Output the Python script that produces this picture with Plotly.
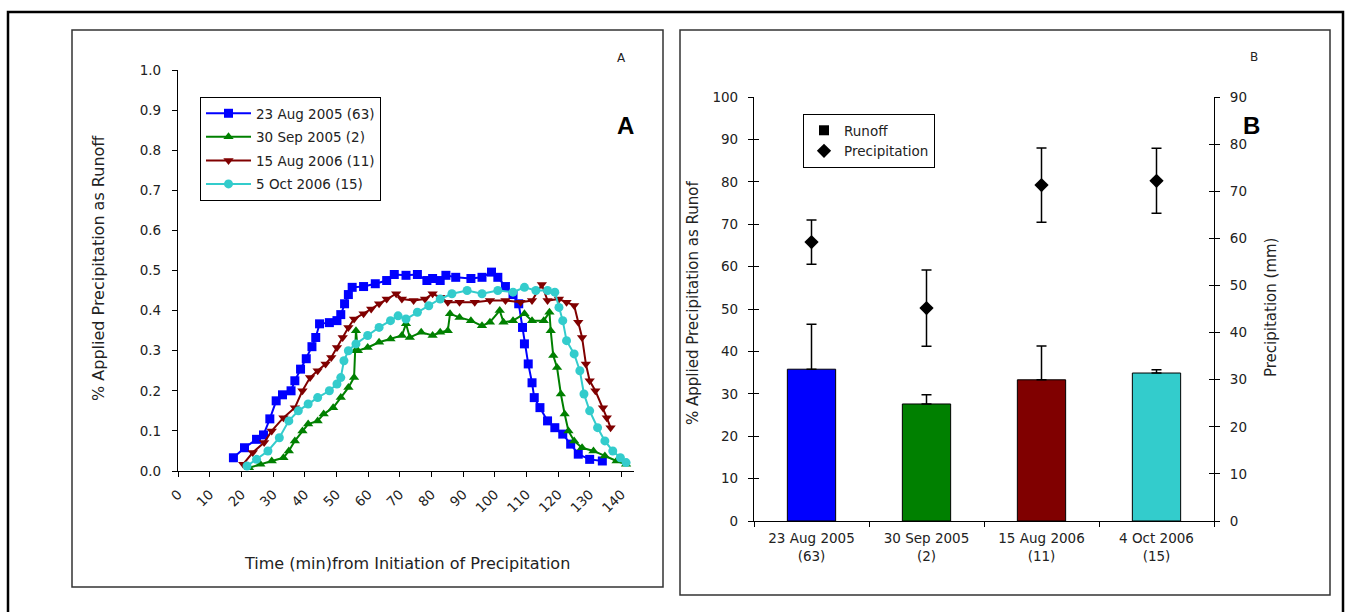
import plotly.graph_objects as go

W, H = 1349, 612

# ---------------- Panel A data (time in min, fraction of applied precip as runoff)
aug05_t = [17.5, 21, 24.8, 27, 29, 31, 33, 35.7, 36.9, 38.7, 40.5, 42.3, 43.5, 44.7, 47.8, 50.2, 51.4, 52.6,
           53.8, 55, 58.6, 62.3, 65.9, 68.3, 72, 75.6, 78.6, 80.4, 82.8, 84.6, 87.7, 92.5, 96, 99, 101, 103.4,
           105.8, 107.6, 108.8, 109.4, 110.6, 111.8, 112.5, 114.3, 116.7, 119, 121.5, 124, 126.4, 130, 134]
aug05_v = [0.033, 0.058, 0.079, 0.09, 0.13, 0.175, 0.19, 0.2, 0.225, 0.254, 0.28, 0.31, 0.333, 0.367, 0.37,
           0.375, 0.39, 0.417, 0.44, 0.458, 0.46, 0.467, 0.475, 0.49, 0.488, 0.49, 0.475, 0.48, 0.475, 0.488,
           0.483, 0.48, 0.483, 0.496, 0.483, 0.46, 0.44, 0.417, 0.358, 0.317, 0.267, 0.22, 0.183, 0.158, 0.125,
           0.108, 0.092, 0.067, 0.042, 0.029, 0.025]

sep05_t = [22.4, 26, 29.6, 33.3, 35, 36.9, 39.3, 41.1, 44.1, 46, 49, 51.4, 53.8, 55.6, 56, 56.2, 56.8, 59.9,
           63.5, 67.1, 70.7, 72, 73.2, 76.8, 80.4, 82.8, 85.2, 85.9, 88.9, 92.5, 96, 98.5, 101.6, 102.8, 105.8,
           109.4, 111.8, 115.5, 117.3, 117.7, 118.5, 119.7, 120.9, 122.1, 123.3, 125.1, 127.6, 131.2, 134.8,
           138.5, 141.5]
sep05_v = [0.008, 0.017, 0.025, 0.033, 0.05, 0.075, 0.1, 0.117, 0.125, 0.142, 0.158, 0.183, 0.208, 0.233, 0.3,
           0.35, 0.3, 0.308, 0.321, 0.329, 0.338, 0.367, 0.333, 0.346, 0.338, 0.346, 0.35, 0.392, 0.383, 0.375,
           0.362, 0.371, 0.4, 0.371, 0.375, 0.392, 0.375, 0.375, 0.396, 0.35, 0.288, 0.258, 0.192, 0.142, 0.1,
           0.075, 0.058, 0.05, 0.0375, 0.025, 0.017]

aug06_t = [20.6, 23.6, 27.2, 29.6, 33.3, 36.9, 39.3, 41.7, 44.1, 46.6, 48.4, 50.2, 52, 53.8, 55.6, 58.6, 61,
           63.5, 65.9, 68.9, 70.7, 74.4, 78, 80.4, 82.8, 85.2, 88.9, 93.7, 98.5, 103.4, 108.2, 111.8, 114.9,
           116.7, 120.3, 122.7, 125.1, 126.4, 127.6, 128.8, 130, 131.8, 134.2, 135.4, 136.6]
aug06_v = [0.017, 0.046, 0.071, 0.1, 0.133, 0.158, 0.2, 0.233, 0.25, 0.267, 0.283, 0.308, 0.333, 0.358, 0.379,
           0.392, 0.404, 0.417, 0.429, 0.442, 0.429, 0.425, 0.429, 0.442, 0.433, 0.421, 0.421, 0.421, 0.425,
           0.425, 0.421, 0.425, 0.465, 0.425, 0.429, 0.421, 0.413, 0.371, 0.333, 0.267, 0.225, 0.2, 0.158,
           0.133, 0.108]

oct06_t = [21.8, 24.8, 28.4, 32, 35, 38, 41.1, 44.1, 47.8, 50.2, 51.4, 52.4, 53.8, 56.2, 59.9, 63.5, 67.1, 69.5,
           72, 75.6, 79.2, 82.8, 86.5, 91.3, 96, 101, 105.8, 109.4, 113, 116.7, 119, 120.3, 121.5, 122.7, 125.1,
           126.9, 128.2, 130, 132.5, 134.8, 137.3, 139.7, 141.5]
oct06_v = [0.0125, 0.029, 0.05, 0.083, 0.125, 0.15, 0.167, 0.183, 0.2, 0.217, 0.233, 0.275, 0.3, 0.317, 0.338,
           0.358, 0.375, 0.387, 0.379, 0.396, 0.412, 0.429, 0.442, 0.45, 0.442, 0.45, 0.446, 0.458, 0.45, 0.45,
           0.446, 0.408, 0.375, 0.325, 0.292, 0.25, 0.192, 0.15, 0.108, 0.075, 0.05, 0.033, 0.021]

series_names = ["23 Aug 2005 (63)", "30 Sep 2005 (2)", "15 Aug 2006 (11)", "5 Oct 2006 (15)"]
x_ticks_a = list(range(0, 141, 10))

# ---------------- Panel B data
events = ["23 Aug 2005<br>(63)", "30 Sep 2005<br>(2)", "15 Aug 2006<br>(11)", "4 Oct 2006<br>(15)"]
runoff_pct = [35.8, 27.6, 33.3, 34.9]
runoff_err = [10.6, 2.2, 8.0, 0.8]
precip_mm = [59.2, 45.2, 71.3, 72.2]
precip_err = [4.7, 8.1, 7.9, 6.9]

colors = ["#0000FF", "#008000", "#800000", "#33CCCC"]
symbols = ["square", "triangle-up", "triangle-down", "circle"]

FONT = "DejaVu Sans, Verdana, sans-serif"
BFONT = "Liberation Sans, Arial, sans-serif"
TXT = "#222222"


def px(x):
    return x / W


def py(y):
    return 1 - y / H


fig = go.Figure()

for (t, v), name, c, s, grp in zip(
        [(aug05_t, aug05_v), (sep05_t, sep05_v), (aug06_t, aug06_v), (oct06_t, oct06_v)],
        series_names, colors, symbols, ["g1", "g2", "g3", "g4"]):
    fig.add_trace(go.Scatter(
        x=t, y=v, mode="lines+markers", name=name, legendgroup=grp,
        line=dict(color=c, width=2),
        marker=dict(symbol=s, size=9, color=c, line=dict(width=0)),
        xaxis="x", yaxis="y", legend="legend"))

fig.add_trace(go.Bar(
    x=events, y=runoff_pct, marker=dict(color=colors, line=dict(color="black", width=1)),
    width=0.42, showlegend=False, xaxis="x2", yaxis="y2",
    error_y=dict(type="data", symmetric=False, array=runoff_err, arrayminus=[0] * 4,
                 color="black", thickness=1.5, width=5)))

fig.add_trace(go.Scatter(
    x=[None], y=[None], mode="markers", name="Runoff",
    marker=dict(symbol="square", size=10, color="black"),
    xaxis="x2", yaxis="y2", legend="legend2"))

fig.add_trace(go.Scatter(
    x=events, y=precip_mm, mode="markers", name="Precipitation",
    marker=dict(symbol="diamond", size=11, color="black"),
    error_y=dict(type="data", array=precip_err, color="black", thickness=1.5, width=5),
    xaxis="x2", yaxis="y3", legend="legend2"))

# empty helper traces so the inner halves of the crossing ticks are drawn
for ya in ["y4", "y5"]:
    fig.add_trace(go.Scatter(x=[None], y=[None], mode="markers", showlegend=False,
                             hoverinfo="skip", xaxis="x2", yaxis=ya))

axis_common = dict(showgrid=False, zeroline=False, showline=True, linecolor="black", linewidth=1.2,
                   ticks="outside", ticklen=5, tickcolor="black", automargin=False,
                   tickfont=dict(family=FONT, size=13.5, color=TXT))
inner_ticks = dict(showgrid=False, zeroline=False, showline=False, ticks="inside", ticklen=5,
                   tickcolor="black", showticklabels=False, automargin=False)

yb_dom = [py(521), py(97)]

fig.update_layout(
    width=W, height=H, autosize=False,
    margin=dict(l=0, r=0, t=0, b=0, pad=0, autoexpand=False),
    paper_bgcolor="white", plot_bgcolor="white",
    font=dict(family=FONT, color=TXT),
    xaxis=dict(domain=[px(178), px(634)], range=[0, 144], tickvals=x_ticks_a, tickangle=-45,
               ticklabelstandoff=4, anchor="y", **axis_common),
    yaxis=dict(domain=[py(471), py(70)], range=[0, 1.0], dtick=0.1, tickformat=".1f",
               ticklabelstandoff=8, anchor="x", **axis_common),
    xaxis2=dict(domain=[px(754), px(1214)], type="category", tickson="boundaries",
                ticklabelstandoff=5, anchor="y2", **axis_common),
    yaxis2=dict(domain=yb_dom, range=[0, 100], dtick=10, ticklabelstandoff=7, anchor="x2", **axis_common),
    yaxis3=dict(domain=yb_dom, range=[0, 90], dtick=10, anchor="x2", overlaying="y2",
                ticklabelstandoff=7, side="right", **axis_common),
    yaxis4=dict(domain=yb_dom, range=[0, 100], dtick=10, anchor="x2", overlaying="y2",
                side="left", **inner_ticks),
    yaxis5=dict(domain=yb_dom, range=[0, 90], dtick=10, anchor="x2", overlaying="y2",
                side="right", **inner_ticks),
    legend=dict(x=px(200), y=py(97), xanchor="left", yanchor="top", bgcolor="white",
                bordercolor="black", borderwidth=1, tracegroupgap=3, itemwidth=45,
                font=dict(family=FONT, size=13.5, color=TXT)),
    legend2=dict(x=px(803), y=py(114), xanchor="left", yanchor="top", bgcolor="white",
                 bordercolor="black", borderwidth=1, itemwidth=30,
                 font=dict(family=FONT, size=13.5, color=TXT)),
    bargap=0.58,
)

shapes = [
    dict(type="rect", xref="paper", yref="paper", x0=px(8), x1=px(1343), y0=py(620), y1=py(12),
         line=dict(color="black", width=2.5)),
    dict(type="rect", xref="paper", yref="paper", x0=px(72), x1=px(663), y0=py(587), y1=py(30),
         line=dict(color="#333", width=1.5)),
    dict(type="rect", xref="paper", yref="paper", x0=px(680), x1=px(1330), y0=py(595), y1=py(30),
         line=dict(color="#333", width=1.5)),
]
fig.update_layout(shapes=shapes)

ann = [
    dict(text="% Applied Precipitation as Runoff", x=px(98), y=py(268), textangle=-90, font_size=16),
    dict(text="Time (min)from Initiation of Precipitation", x=px(407), y=py(563), font_size=16),
    dict(text="A", x=px(621), y=py(58), font_size=12),
    dict(text="<b>A</b>", x=px(625), y=py(126), font_size=24, font_color="black", font_family=BFONT),
    dict(text="% Applied Precipitation as Runof", x=px(693), y=py(303), textangle=-90, font_size=15),
    dict(text="Precipitation (mm)", x=px(1271), y=py(308), textangle=-90, font_size=15),
    dict(text="B", x=px(1254), y=py(57), font_size=12),
    dict(text="<b>B</b>", x=px(1251), y=py(126), font_size=24, font_color="black", font_family=BFONT),
]
for a in ann:
    fs = a.pop("font_size")
    fc = a.pop("font_color", TXT)
    ff = a.pop("font_family", FONT)
    fig.add_annotation(xref="paper", yref="paper", showarrow=False, xanchor="center", yanchor="middle",
                       font=dict(family=ff, size=fs, color=fc), **a)

fig.write_html("out.html", config={"displayModeBar": False},
               post_script="document.body.style.margin='0';document.body.style.overflow='hidden';")
